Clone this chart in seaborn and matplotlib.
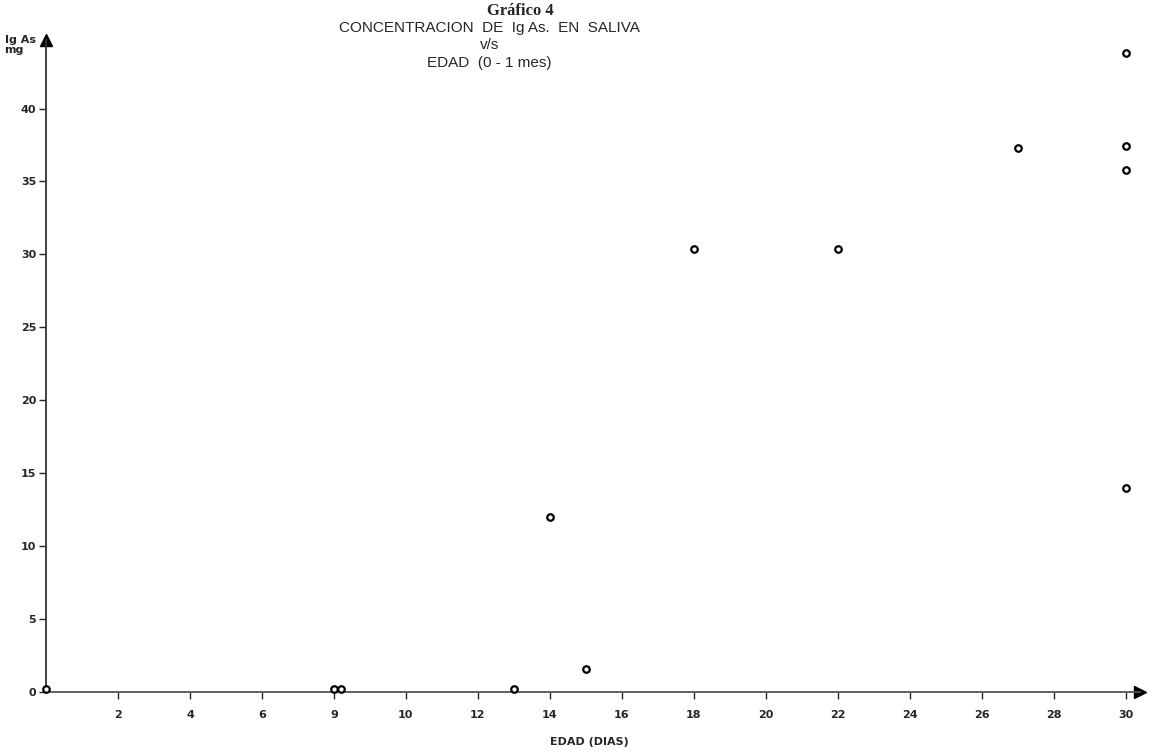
import matplotlib
matplotlib.use("Agg")
import matplotlib.pyplot as plt
import seaborn as sns
import pandas as pd

# datos
dias = [0, 8, 8.2, 13, 14, 15, 18, 22, 27, 30, 30, 30, 30]
iga = [0.2, 0.2, 0.2, 0.2, 12, 1.6, 30.4, 30.4, 37.3, 43.8, 37.4, 35.8, 14.0]

x_ticks = [2, 4, 6, 8, 10, 12, 14, 16, 18, 20, 22, 24, 26, 28, 30]
x_labels = ["2", "4", "6", "9", "10", "12", "14", "16", "18", "20", "22", "24", "26", "28", "30"]
y_ticks = [0, 5, 10, 15, 20, 25, 30, 35, 40]

df = pd.DataFrame({"dias": dias, "iga": iga})

sns.set_style("ticks")
plt.rcParams["font.family"] = ["DejaVu Sans"]

fig = plt.figure(figsize=(11.52, 7.54), dpi=100)
ax = fig.add_axes([46 / 1152, 62 / 754, (1140 - 46) / 1152, (692 - 40) / 754])

sns.scatterplot(
    data=df, x="dias", y="iga", ax=ax,
    marker="o", s=22, facecolor="white", edgecolor="black", linewidth=1.6,
    zorder=3, clip_on=False,
)

ax.set_xlim(0, 30.4)
ax.set_ylim(0, 44.7)
ax.set_xticks(x_ticks)
ax.set_xticklabels(x_labels, fontsize=8, fontweight="bold")
ax.set_yticks(y_ticks)
ax.set_yticklabels([str(v) for v in y_ticks], fontsize=8, fontweight="bold")
ax.tick_params(axis="x", direction="out", length=5, width=1, pad=8)
ax.tick_params(axis="y", direction="out", length=5, width=1, pad=2)
ax.set_xlabel("")
ax.set_ylabel("")

sns.despine(ax=ax)
ax.spines["left"].set_linewidth(1.3)
ax.spines["bottom"].set_linewidth(1.3)
ax.spines["left"].set_color("#333333")
ax.spines["bottom"].set_color("#555555")

# flechas de los ejes
ax.plot(1, 0, ">", color="black", markersize=8, transform=ax.transAxes, clip_on=False)
ax.plot(0, 1, "^", color="black", markersize=8, transform=ax.transAxes, clip_on=False)

fig.text(0.452, 0.996, "Gráfico 4", ha="center", va="top",
         fontsize=12, fontweight="bold", family="Liberation Serif")
fig.text(0.425, 0.972,
         "CONCENTRACION  DE  Ig As.  EN  SALIVA\nv/s\nEDAD  (0 - 1 mes)",
         ha="center", va="top", fontsize=11, linespacing=1.3,
         family="Liberation Sans")
fig.text(0.004, 0.953, "Ig As\nmg", ha="left", va="top",
         fontsize=8, fontweight="bold", linespacing=1.0)
fig.text(0.512, 0.016, "EDAD (DIAS)", ha="center", va="center",
         fontsize=8, fontweight="bold")

fig.savefig("out.png", dpi=100)
